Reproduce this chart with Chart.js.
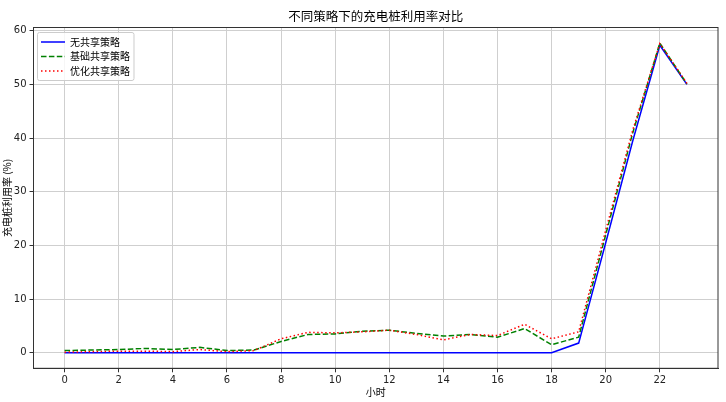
<!DOCTYPE html>
<html>
<head>
<meta charset="utf-8">
<script src="https://cdn.jsdelivr.net/npm/chart.js@4.4.0/dist/chart.umd.min.js"></script>
<style>
  body { margin: 0; background: #fff; }
  #wrap { width: 726px; height: 402px; }
</style>
</head>
<body>
<div id="wrap"><canvas id="util"></canvas></div>
<script>
var hours = [0, 1, 2, 3, 4, 5, 6, 7, 8, 9, 10, 11, 12, 13, 14, 15, 16, 17, 18, 19, 20, 21, 22, 23];
var xTicks = [0, 2, 4, 6, 8, 10, 12, 14, 16, 18, 20, 22];
var yTicks = [0, 10, 20, 30, 40, 50, 60];

var noShare    = [0, 0, 0, 0, 0, 0, 0, 0, 0, 0, 0, 0, 0, 0, 0, 0, 0, 0, 0, 1.8, 20.5, 39.5, 57.3, 50.0];
var basicShare = [0.4, 0.5, 0.6, 0.8, 0.6, 1.0, 0.4, 0.5, 2.1, 3.4, 3.5, 4.0, 4.2, 3.6, 3.1, 3.4, 2.9, 4.5, 1.5, 2.9, 22.0, 41.0, 57.7, 50.1];
var optShare   = [0.1, 0.2, 0.3, 0.3, 0.2, 0.6, 0.2, 0.4, 2.6, 3.8, 3.7, 3.9, 4.2, 3.4, 2.4, 3.4, 3.2, 5.3, 2.6, 3.9, 22.8, 41.5, 57.6, 50.2];

var cjk = '"Noto Sans CJK SC", sans-serif';
var numFont = '"DejaVu Sans", "Noto Sans CJK SC", sans-serif';

Chart.defaults.color = '#000';

// legend inset in the plot with a light frame, and a box round the plot area
var mplBox = {
  id: 'mplBox',
  afterLayout: function (chart) {
    var lg = chart.legend, ca = chart.chartArea;
    lg.left = ca.left + 3;
    lg.top = ca.top + 5;
    if (!lg._framed) {
      var orig = lg.draw;
      lg.draw = function () {
        var p = this.options.labels.padding;
        var col = this.columnSizes[0];
        var c = this.ctx;
        c.save();
        c.beginPath();
        c.roundRect(this.left + p - 3.5, this.top + p - 4.5, col.width + 7.5, col.height - p + 9, 2);
        c.fillStyle = 'rgba(255,255,255,0.8)';
        c.fill();
        c.strokeStyle = '#cccccc';
        c.lineWidth = 1;
        c.stroke();
        c.restore();
        orig.call(this);
      };
      lg._framed = true;
    }
  },
  afterDraw: function (chart) {
    var ca = chart.chartArea, c = chart.ctx;
    c.save();
    c.strokeStyle = '#333';
    c.lineWidth = 1;
    c.strokeRect(ca.left, ca.top, ca.right - ca.left, ca.bottom - ca.top);
    c.restore();
  }
};

var ctx = document.getElementById('util').getContext('2d');

var myChart = new Chart(ctx, {
  type: 'line',
  data: {
    labels: hours,
    datasets: [{
      label: '无共享策略',
      data: noShare,
      borderColor: '#0000ff',
      backgroundColor: '#0000ff',
      borderWidth: 1.5,
      order: 3
    }, {
      label: '基础共享策略',
      data: basicShare,
      borderColor: '#008000',
      backgroundColor: '#008000',
      borderWidth: 1.5,
      borderDash: [5.5, 2.4],
      order: 2
    }, {
      label: '优化共享策略',
      data: optShare,
      borderColor: '#ff0000',
      backgroundColor: '#ff0000',
      borderWidth: 1.5,
      borderDash: [1.5, 2.5],
      order: 1
    }]
  },
  options: {
    responsive: true,
    maintainAspectRatio: false,
    animation: false,
    layout: { padding: { left: 0, right: 8, top: 0, bottom: 0 } },
    elements: { point: { radius: 0 }, line: { tension: 0, fill: false } },
    plugins: {
      title: {
        display: true,
        text: '不同策略下的充电桩利用率对比',
        fullSize: false,
        color: '#000',
        font: { family: cjk, size: 12.5, weight: 'normal' },
        padding: { top: 9, bottom: 3.5 }
      },
      legend: {
        position: 'chartArea',
        align: 'start',
        labels: {
          usePointStyle: true,
          pointStyle: 'line',
          pointStyleWidth: 24,
          padding: 4.5,
          color: '#000',
          font: { family: cjk, size: 10 },
          generateLabels: function (chart) {
            var items = Chart.defaults.plugins.legend.labels.generateLabels(chart);
            items.forEach(function (it) {
              var ds = chart.data.datasets[it.datasetIndex];
              it.lineDash = ds.borderDash || [];
              it.lineWidth = ds.borderWidth;
              it.strokeStyle = ds.borderColor;
            });
            return items;
          },
          sort: function (a, b) { return a.datasetIndex - b.datasetIndex; }
        }
      },
      tooltip: { enabled: false }
    },
    scales: {
      x: {
        type: 'linear',
        min: -1.15,
        max: 24.15,
        afterBuildTicks: function (axis) {
          axis.ticks = xTicks.map(function (v) { return { value: v }; });
        },
        afterFit: function (axis) { axis.height = 33.7; },
        grid: { color: '#cfcfcf', lineWidth: 1, tickColor: '#333', tickLength: 4 },
        border: { color: '#333', width: 1 },
        ticks: { padding: 2, color: '#222', font: { family: numFont, size: 10 } },
        title: { display: true, text: '小时', color: '#000', font: { family: cjk, size: 10 }, padding: { bottom: 4 } }
      },
      y: {
        min: -2.9,
        max: 60.6,
        afterBuildTicks: function (axis) {
          axis.ticks = yTicks.map(function (v) { return { value: v }; });
        },
        afterFit: function (axis) { axis.width = 33.5; },
        grid: { color: '#cfcfcf', lineWidth: 1, tickColor: '#333', tickLength: 4 },
        border: { color: '#333', width: 1 },
        ticks: { padding: 3, color: '#222', font: { family: numFont, size: 10 } },
        title: { display: true, text: '充电桩利用率 (%)', color: '#000', font: { family: cjk, size: 10 }, padding: { top: 1 } }
      }
    }
  },
  plugins: [mplBox]
});
</script>
</body>
</html>
